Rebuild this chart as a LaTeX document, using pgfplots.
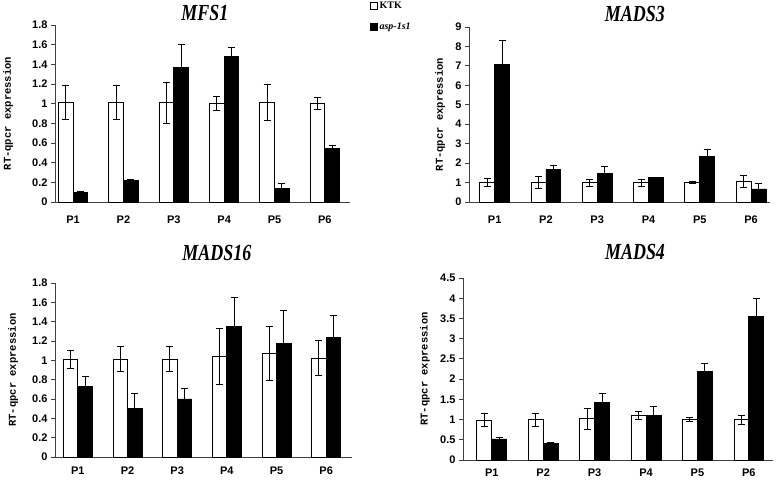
\documentclass[border=0pt]{standalone}
\usepackage{fontspec}
\setmainfont{Liberation Sans}
\newfontfamily\monofont{Liberation Mono}
\newfontfamily\titlefont{Liberation Serif}
\usepackage{graphicx}
\usepackage{pgfplots}
\pgfplotsset{compat=1.18}

\pgfplotsset{
 qpcr/.style={
  scale only axis, anchor=south west,
  axis lines*=left, axis line style={-, black!75, line width=0.9pt},
  ybar=0pt, bar width=0.29,
  ymin=0,
  xtick={1,...,6}, xticklabels={P1,P2,P3,P4,P5,P6},
  xtick style={draw=none},
  tick align=outside, ytick style={black!75, line width=0.8pt}, major tick length=4pt,
  /pgf/number format/assume math mode=true,
  ticklabel style={font=\bfseries\fontsize{11}{13}\selectfont},
  ylabel={RT-qpcr expression},
  ylabel style={font=\monofont\bfseries\fontsize{10.5}{12}\selectfont, anchor=center},
  every axis title shift=0pt,
  title style={font=\titlefont\bfseries\itshape\fontsize{23}{26}\selectfont, anchor=base, yshift=0pt},
  clip=false,
 },
 ktk/.style={fill=white, draw=black, line width=0.8pt,
   error bars/.cd, y dir=both, y explicit,
   error bar style={line width=1pt, black},
   error mark options={rotate=90, mark size=3.5pt, line width=1pt, black}},
 asp/.style={fill=black, draw=black, line width=0.8pt,
   error bars/.cd, y dir=both, y explicit,
   error bar style={line width=1pt, black},
   error mark options={rotate=90, mark size=3.5pt, line width=1pt, black}},
}

\begin{document}
\begin{tikzpicture}[x=1pt,y=1pt]
\useasboundingbox (0,0) rectangle (778,481);

% MFS1
\begin{axis}[qpcr, at={(55pt,279pt)}, width=295pt, height=177pt,
  xmin=0.64, xmax=6.5, ymax=1.8, ytick={0,0.2,...,1.8},
  xticklabel style={yshift=-6pt},
  ylabel style={at={(axis description cs:-0.159,0.5)}},
  title={\scalebox{0.78}[1]{MFS1}}, title style={at={(axis description cs:0.508,1.028)}},
  legend style={at={(axis description cs:1.068,1.141)}, anchor=north west, draw=none, fill=none,
    font=\titlefont\bfseries\fontsize{10}{11}\selectfont, row sep=9pt, inner sep=0pt},
  legend cell align=left,
  legend image code/.code={\draw[#1, line width=0.8pt] (0pt,-3pt) rectangle (6.5pt,3.5pt);},
  ]
\addplot[ktk] coordinates {(1,1.01) +- (0,0.17) (2,1.01) +- (0,0.17) (3,1.01) +- (0,0.21)
  (4,1.00) +- (0,0.07) (5,1.01) +- (0,0.18) (6,1.00) +- (0,0.06)};
\addplot[asp] coordinates {(1,0.10) +- (0,0.01) (2,0.22) +- (0,0.01) (3,1.37) +- (0,0.23)
  (4,1.48) +- (0,0.09) (5,0.14) +- (0,0.05) (6,0.54) +- (0,0.035)};
\legend{KTK, \textit{asp-1s1}}
\end{axis}

% MADS3
\begin{axis}[qpcr, at={(469pt,279pt)}, width=301pt, height=175pt,
  xmin=0.5, xmax=6.37, ymax=9, ytick={0,1,...,9},
  xticklabel style={yshift=-6pt},
  ylabel style={at={(axis description cs:-0.096,0.5)}},
  title={\scalebox{0.78}[1]{MADS3}}, title style={at={(axis description cs:0.551,1.034)}},
  ]
\addplot[ktk] coordinates {(1,1.0) +- (0,0.2) (2,1.0) +- (0,0.29) (3,1.0) +- (0,0.18)
  (4,1.0) +- (0,0.18) (5,1.0) +- (0,0.07) (6,1.06) +- (0,0.31)};
\addplot[asp] coordinates {(1,7.07) +- (0,1.23) (2,1.66) +- (0,0.2) (3,1.49) +- (0,0.35)
  (4,1.24) +- (0,0.03) (5,2.32) +- (0,0.37) (6,0.67) +- (0,0.26)};
\end{axis}

% MADS16
\begin{axis}[qpcr, at={(55pt,24pt)}, width=297pt, height=174pt,
  xmin=0.54, xmax=6.52, ymax=1.8, ytick={0,0.2,...,1.8},
  xticklabel style={yshift=-2pt},
  ylabel style={at={(axis description cs:-0.141,0.5)}},
  title={\scalebox{0.78}[1]{MADS16}}, title style={at={(axis description cs:0.545,1.132)}},
  ]
\addplot[ktk] coordinates {(1,1.01) +- (0,0.09) (2,1.01) +- (0,0.13) (3,1.01) +- (0,0.13)
  (4,1.04) +- (0,0.29) (5,1.07) +- (0,0.28) (6,1.02) +- (0,0.18)};
\addplot[asp] coordinates {(1,0.73) +- (0,0.1) (2,0.50) +- (0,0.155) (3,0.60) +- (0,0.11)
  (4,1.35) +- (0,0.3) (5,1.17) +- (0,0.35) (6,1.24) +- (0,0.22)};
\end{axis}

% MADS4
\begin{axis}[qpcr, at={(463pt,21pt)}, width=310pt, height=182pt,
  xmin=0.44, xmax=6.47, ymax=4.5, ytick={0,0.5,...,4.5},
  xticklabel style={yshift=-1pt},
  ylabel style={at={(axis description cs:-0.123,0.5)}},
  title={\scalebox{0.78}[1]{MADS4}}, title style={at={(axis description cs:0.555,1.104)}},
  ]
\addplot[ktk] coordinates {(1,0.99) +- (0,0.15) (2,1.0) +- (0,0.16) (3,1.02) +- (0,0.26)
  (4,1.11) +- (0,0.1) (5,1.0) +- (0,0.06) (6,1.0) +- (0,0.11)};
\addplot[asp] coordinates {(1,0.52) +- (0,0.04) (2,0.41) +- (0,0.035) (3,1.43) +- (0,0.22)
  (4,1.10) +- (0,0.22) (5,2.19) +- (0,0.2) (6,3.55) +- (0,0.45)};
\end{axis}
\end{tikzpicture}
\end{document}
